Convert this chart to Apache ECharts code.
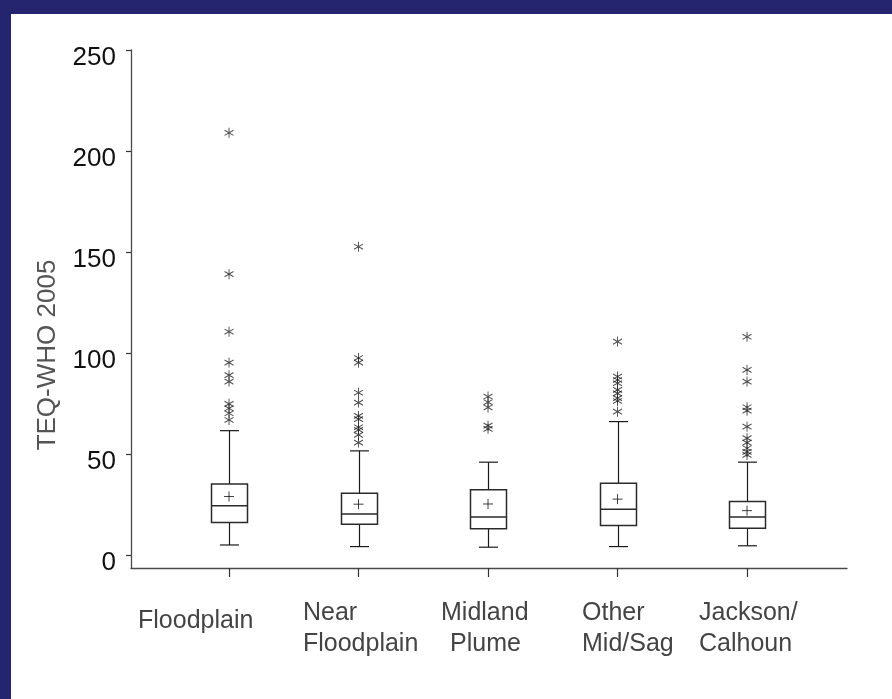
<!DOCTYPE html>
<html>
<head>
<meta charset="utf-8">
<script src="https://cdn.jsdelivr.net/npm/echarts@6/dist/echarts.min.js"></script>
<style>
  html, body { margin: 0; padding: 0; background: #ffffff; }
  #main { position: absolute; left: 0; top: 0; width: 892px; height: 699px; }
  #bandTop { position: fixed; left: 0; top: 0; width: 892px; height: 14px; background: #24246f; z-index: 5; }
  #bandLeft { position: fixed; left: 0; top: 0; width: 11px; height: 699px; background: #24246f; z-index: 5; }
</style>
</head>
<body>
<div id="main"></div>
<div id="bandTop"></div>
<div id="bandLeft"></div>
<script>
// ---- data ----
const categories = ['Floodplain', 'Near\nFloodplain', 'Midland\nPlume', 'Other\nMid/Sag', 'Jackson/\nCalhoun'];
const whiskerLow  = [4.9, 4.1, 3.8, 4.1, 4.5];
const quartile1   = [16.0, 15.2, 12.9, 14.5, 13.2];
const medians     = [24.3, 20.3, 18.7, 22.6, 18.7];
const quartile3   = [35.1, 30.5, 32.2, 35.5, 26.4];
const whiskerHigh = [61.5, 51.5, 45.9, 66.0, 45.9];
const means       = [28.9, 25.1, 25.2, 27.6, 21.9];
const outliersFloodplain     = [209, 139, 110.5, 95.2, 89, 85.8, 74.8, 72.6, 70.1, 66.8];
const outliersNearFloodplain = [152.6, 97.5, 95.2, 80.3, 75.4, 68.8, 67.2, 63.2, 61.9, 59.4, 55.6];
const outliersMidlandPlume   = [78.4, 75.6, 73.0, 64.0, 62.4];
const outliersOtherMidSag    = [105.6, 88.3, 86.6, 85.0, 81.7, 80.0, 77.6, 76.2, 70.9];
const outliersJackson        = [108, 91.6, 85.8, 73.1, 71.4, 63.5, 57.8, 55.6, 52.8, 51.0, 49.5];
const yTicks = [0, 50, 100, 150, 200, 250];

// ---- layout (not data) ----
const labelShift = [-0.703, -0.429, -0.363, -0.274, -0.371]; // left edge of each label, in category units
const BOX_W = 36, CAP_W = 19;

const outlierGroups = [outliersFloodplain, outliersNearFloodplain, outliersMidlandPlume, outliersOtherMidSag, outliersJackson];
const boxData = categories.map((c, i) => [i, whiskerLow[i], quartile1[i], medians[i], quartile3[i], whiskerHigh[i]]);
const meanData = means.map((m, i) => [i, m]);
const outlierData = [];
outlierGroups.forEach((g, i) => g.forEach(v => outlierData.push([i, v])));
const labelAnchors = categories.map((c, i) => i + labelShift[i]);

const ASTERISK = 'path://M0,-5L0,5M-4.5,-2.6L4.5,2.6M-4.5,2.6L4.5,-2.6';
const PLUS = 'path://M-5,0L5,0M0,-5L0,5';

function renderBox(params, api) {
  const x = api.value(0);
  const pLow = api.coord([x, api.value(1)]);
  const pQ1 = api.coord([x, api.value(2)]);
  const pMed = api.coord([x, api.value(3)]);
  const pQ3 = api.coord([x, api.value(4)]);
  const pHigh = api.coord([x, api.value(5)]);
  const cx = Math.round(pLow[0]) + 0.5;
  const lineStyle = { stroke: '#1a1a1a', lineWidth: 1.2 };
  return {
    type: 'group',
    children: [
      { type: 'line', shape: { x1: cx, y1: pQ3[1], x2: cx, y2: pHigh[1] }, style: lineStyle },
      { type: 'line', shape: { x1: cx, y1: pQ1[1], x2: cx, y2: pLow[1] }, style: lineStyle },
      { type: 'line', shape: { x1: cx - CAP_W / 2, y1: pHigh[1], x2: cx + CAP_W / 2, y2: pHigh[1] }, style: lineStyle },
      { type: 'line', shape: { x1: cx - CAP_W / 2, y1: pLow[1], x2: cx + CAP_W / 2, y2: pLow[1] }, style: lineStyle },
      { type: 'rect', shape: { x: cx - BOX_W / 2, y: pQ3[1], width: BOX_W, height: pQ1[1] - pQ3[1] },
        style: { fill: '#ffffff', stroke: '#2a2a2a', lineWidth: 1.5 } },
      { type: 'line', shape: { x1: cx - BOX_W / 2, y1: pMed[1], x2: cx + BOX_W / 2, y2: pMed[1] },
        style: { stroke: '#2a2a2a', lineWidth: 1.5 } }
    ]
  };
}

const chart = echarts.init(document.getElementById('main'), null, { renderer: 'canvas' });
chart.setOption({
  backgroundColor: '#ffffff',
  animation: false,
  grid: { left: 131, right: 45, top: 50, bottom: 131 },
  xAxis: {
    type: 'value',
    min: -0.757,
    max: 4.772,
    splitLine: { show: false },
    axisLine: { show: true, onZero: false, lineStyle: { color: '#4a4a4a', width: 1.3 } },
    axisTick: { show: true, customValues: categories.map((c, i) => i), length: 9, lineStyle: { color: '#333', width: 1.2 } },
    axisLabel: {
      show: true,
      customValues: labelAnchors,
      align: 'left',
      verticalAlign: 'top',
      margin: 30,
      color: '#444',
      fontFamily: 'Liberation Sans',
      fontSize: 25,
      lineHeight: 31,
      formatter: function (value) {
        let idx = 0, best = Infinity;
        labelAnchors.forEach((a, i) => { const d = Math.abs(a - value); if (d < best) { best = d; idx = i; } });
        const lines = categories[idx].split('\n');
        if (lines.length === 1) return '{single|' + lines[0] + '}';
        if (idx === 2) return '{l|' + lines[0] + '}\n{indent|' + lines[1] + '}';
        return lines.map(s => '{l|' + s + '}').join('\n');
      },
      rich: {
        l: { fontFamily: 'Liberation Sans', fontSize: 25, lineHeight: 31, color: '#444' },
        single: { fontFamily: 'Liberation Sans', fontSize: 25, lineHeight: 47, color: '#444' },
        indent: { fontFamily: 'Liberation Sans', fontSize: 25, lineHeight: 31, color: '#444', padding: [0, 0, 0, 9] }
      }
    }
  },
  yAxis: {
    type: 'value',
    min: -6.5,
    max: 250,
    name: 'TEQ-WHO 2005',
    nameLocation: 'middle',
    nameGap: 70,
    nameRotate: 90,
    nameTextStyle: { color: '#555', fontFamily: 'Liberation Sans', fontSize: 26, padding: [0, 92, 0, 0] },
    splitLine: { show: false },
    axisLine: { show: true, onZero: false, lineStyle: { color: '#4a4a4a', width: 1.3 } },
    axisTick: { show: true, customValues: yTicks, length: 5, lineStyle: { color: '#333', width: 1.2 } },
    axisLabel: {
      customValues: yTicks,
      margin: 15,
      color: '#111',
      fontFamily: 'Liberation Sans',
      fontSize: 26,
      verticalAlign: 'top',
      lineHeight: 16
    }
  },
  series: [
    {
      type: 'custom',
      renderItem: renderBox,
      data: boxData,
      encode: { x: 0, y: [1, 2, 3, 4, 5] },
      z: 2
    },
    {
      type: 'scatter',
      data: meanData,
      symbol: PLUS,
      symbolSize: 10,
      itemStyle: { color: '#111', borderColor: '#111', borderWidth: 1 },
      z: 3
    },
    {
      type: 'scatter',
      data: outlierData,
      symbol: ASTERISK,
      symbolSize: [9, 10],
      itemStyle: { color: '#222', borderColor: '#222', borderWidth: 1 },
      z: 3
    }
  ]
});
</script>
</body>
</html>
